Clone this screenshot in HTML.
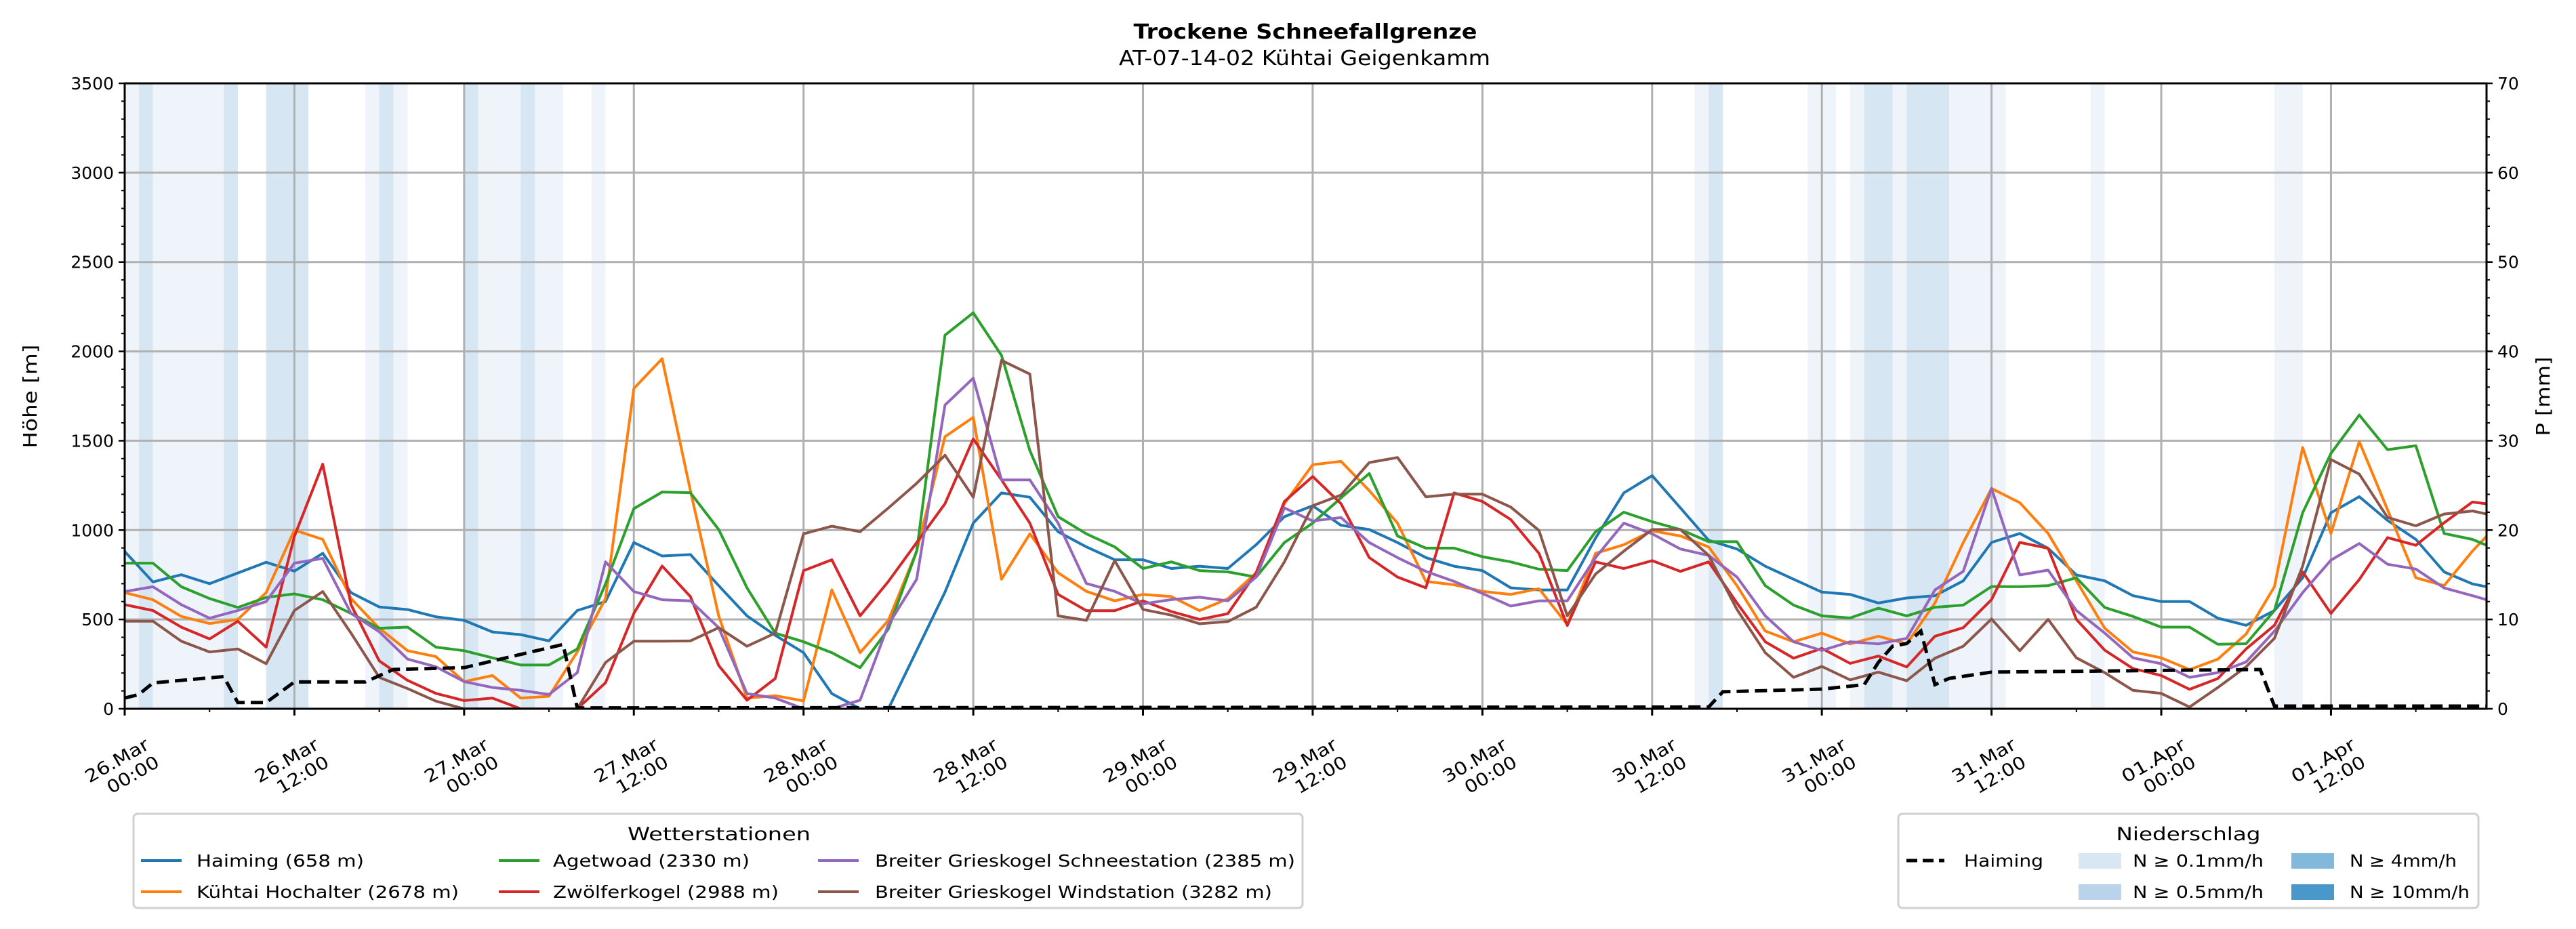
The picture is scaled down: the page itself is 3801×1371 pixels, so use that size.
<!DOCTYPE html>
<html><head><meta charset="utf-8"><style>
html,body{margin:0;padding:0;background:#fff;}
svg{display:block;font-family:"DejaVu Sans","Liberation Sans",sans-serif;}
</style></head><body>
<svg id="chart" width="3801" height="1371" viewBox="0 0 3801 1371" xmlns="http://www.w3.org/2000/svg">
<g id="bands"></g>
<g id="grid"></g>
<g id="series"></g>
<g id="axes"></g>
<text x="1926" y="57" text-anchor="middle" font-size="30" font-weight="bold" textLength="507" lengthAdjust="spacingAndGlyphs">Trockene Schneefallgrenze</text>
<text x="1925" y="96" text-anchor="middle" font-size="30" textLength="548" lengthAdjust="spacingAndGlyphs">AT-07-14-02 Kühtai Geigenkamm</text>
<text transform="translate(54,585) rotate(-90)" text-anchor="middle" font-size="28" textLength="153" lengthAdjust="spacingAndGlyphs">Höhe [m]</text>
<text transform="translate(3762,585) rotate(-90)" text-anchor="middle" font-size="28" textLength="117" lengthAdjust="spacingAndGlyphs">P [mm]</text>

<g>
<rect x="197" y="1201" width="1725" height="139" rx="6" fill="#fff" stroke="#d0d0d0" stroke-width="3"/>
<text x="1061" y="1240" text-anchor="middle" font-size="27" textLength="270" lengthAdjust="spacingAndGlyphs">Wetterstationen</text>
<g><line x1="208" y1="1270" x2="268" y2="1270" stroke="#1f77b4" stroke-width="4"/><text x="290" y="1279" font-size="25" textLength="247" lengthAdjust="spacingAndGlyphs">Haiming (658 m)</text></g>
<g><line x1="208" y1="1316" x2="268" y2="1316" stroke="#ff7f0e" stroke-width="4"/><text x="290" y="1325" font-size="25" textLength="387" lengthAdjust="spacingAndGlyphs">Kühtai Hochalter (2678 m)</text></g>
<g><line x1="736" y1="1270" x2="796" y2="1270" stroke="#2ca02c" stroke-width="4"/><text x="816" y="1279" font-size="25" textLength="290" lengthAdjust="spacingAndGlyphs">Agetwoad (2330 m)</text></g>
<g><line x1="736" y1="1316" x2="796" y2="1316" stroke="#d62728" stroke-width="4"/><text x="816" y="1325" font-size="25" textLength="333" lengthAdjust="spacingAndGlyphs">Zwölferkogel (2988 m)</text></g>
<g><line x1="1207" y1="1270" x2="1267" y2="1270" stroke="#9467bd" stroke-width="4"/><text x="1291" y="1279" font-size="25" textLength="620" lengthAdjust="spacingAndGlyphs">Breiter Grieskogel Schneestation (2385 m)</text></g>
<g><line x1="1207" y1="1316" x2="1267" y2="1316" stroke="#8c564b" stroke-width="4"/><text x="1291" y="1325" font-size="25" textLength="586" lengthAdjust="spacingAndGlyphs">Breiter Grieskogel Windstation (3282 m)</text></g>
</g>

<g>
<rect x="2801" y="1201" width="856" height="139" rx="6" fill="#fff" stroke="#d0d0d0" stroke-width="3"/>
<text x="3229" y="1240" text-anchor="middle" font-size="27" textLength="213" lengthAdjust="spacingAndGlyphs">Niederschlag</text>
<g><line x1="2813" y1="1270" x2="2869" y2="1270" stroke="#000" stroke-width="5" stroke-dasharray="16,8"/><text x="2898" y="1279" font-size="25" textLength="117" lengthAdjust="spacingAndGlyphs">Haiming</text></g>
<g><rect x="3067" y="1259" width="63" height="23" fill="#d9e7f5"/><text x="3147" y="1279" font-size="25" textLength="193" lengthAdjust="spacingAndGlyphs">N ≥ 0.1mm/h</text></g>
<g><rect x="3067" y="1305" width="63" height="23" fill="#b9d4ea"/><text x="3147" y="1325" font-size="25" textLength="193" lengthAdjust="spacingAndGlyphs">N ≥ 0.5mm/h</text></g>
<g><rect x="3381" y="1259" width="63" height="23" fill="#82b8da"/><text x="3467" y="1279" font-size="25" textLength="158" lengthAdjust="spacingAndGlyphs">N ≥ 4mm/h</text></g>
<g><rect x="3381" y="1305" width="63" height="23" fill="#4a98c9"/><text x="3467" y="1325" font-size="25" textLength="177" lengthAdjust="spacingAndGlyphs">N ≥ 10mm/h</text></g>
</g>
</svg>
<script>
// ---- data ----
const seriesNames = ["Haiming (658 m)","Kühtai Hochalter (2678 m)","Agetwoad (2330 m)","Zwölferkogel (2988 m)","Breiter Grieskogel Schneestation (2385 m)","Breiter Grieskogel Windstation (3282 m)"];
const seriesColors = ["#1f77b4","#ff7f0e","#2ca02c","#d62728","#9467bd","#8c564b"];
const hours = [];
for (let h = 0; h <= 166; h += 2) hours.push(h);
hours.push(167);
const haiming = [880,710,750,700,760,820,770,870,650,570,
 555,515,495,430,415,380,550,600,930,855,
 863,689,520,411,314,85,0,0,326,653,
 1039,1208,1184,991,906,834,834,785,798,785,
 918,1075,1136,1027,1003,930,846,798,773,677,
 665,665,955,1208,1305,1124,943,894,798,725,
 653,640,592,620,633,716,931,981,898,749,
 716,633,600,600,507,467,550,733,1097,1187,
 1054,948,766,699,683];
const kuehtai = [650,610,517,477,500,650,1000,948,617,451,
 325,292,152,186,60,70,318,617,1793,1959,
 1221,520,60,73,44,665,314,495,882,1523,
 1631,725,979,761,657,604,640,628,549,616,
 761,1148,1366,1385,1221,1039,713,694,657,640,
 672,471,870,918,996,967,906,689,435,375,
 423,363,406,363,592,930,1233,1153,981,716,
 451,318,285,219,278,418,683,1462,981,1495,
 1114,733,689,882,965];
const agetwoad = [815,815,683,617,567,623,643,610,534,451,
 457,345,325,285,245,245,335,699,1120,1213,
 1209,1003,677,423,375,314,230,447,882,2091,
 2216,1977,1445,1075,979,906,785,822,773,766,
 737,930,1039,1180,1317,967,899,899,851,822,
 781,773,991,1100,1047,1003,935,935,689,580,
 520,508,563,520,568,580,684,683,689,733,
 567,517,457,457,361,364,550,1097,1429,1644,
 1450,1472,981,948,915];
const zwoelfer = [583,550,457,391,490,345,965,1369,583,268,
 159,86,46,60,0,0,0,146,534,799,
 628,242,48,169,773,834,520,713,930,1148,
 1510,1281,1039,640,549,549,604,544,500,532,
 761,1160,1300,1148,846,737,677,1208,1160,1059,
 870,466,822,785,829,769,822,592,375,283,
 338,254,295,234,406,454,611,931,898,500,
 328,225,186,109,169,335,467,766,534,723,
 958,915,1041,1157,1147];
const grieskogelSchnee = [656,683,583,507,550,600,815,842,534,431,
 278,235,152,119,103,80,202,822,656,610,
 604,454,85,60,0,0,48,471,725,1700,
 1850,1281,1281,1039,701,657,587,611,624,604,
 737,1124,1051,1070,930,846,769,713,645,575,
 604,604,846,1039,979,894,858,737,520,375,
 326,375,363,394,665,769,1233,749,776,550,
 424,285,252,176,202,262,434,650,832,925,
 809,782,676,633,610];
const grieskogelWind = [490,490,378,318,335,252,550,656,424,176,
 113,43,0,0,0,0,0,259,378,378,
 380,454,350,423,979,1022,991,1124,1262,1419,
 1184,1950,1873,520,495,829,556,524,476,488,
 568,822,1136,1196,1378,1406,1186,1201,1201,1129,
 998,520,754,882,1003,1003,858,556,314,176,
 237,162,205,157,283,350,503,325,500,285,
 202,103,86,10,119,235,394,799,1395,1313,
 1071,1024,1090,1107,1090];
const precipHours = [0,1,2,7,8,10,12,17,19,24,31,32,112,113,120,123,124,125,126,127,128,129,132,151,152,167];
const precipMm = [1.2,1.6,2.9,3.6,0.7,0.7,3.0,3.0,4.4,4.6,7.2,0.1,0.2,1.9,2.2,2.7,5.2,7.0,7.3,8.7,2.7,3.4,4.1,4.4,0.3,0.3];
const bandStart = [0,1,2,7,10,17,18,19,24,25,28,29,33,111,112,119,122,123,125,126,129,139,152];
const bandEnd   = [1,2,7,8,13,18,19,20,25,28,29,31,34,112,113,121,123,125,126,129,133,140,154];
const bandLevel = [1,2,1,2,2,1,2,1,2,1,2,1,1,1,2,1,1,2,1,2,1,1,1];
const xTickLabels = ["26.Mar|00:00","26.Mar|12:00","27.Mar|00:00","27.Mar|12:00","28.Mar|00:00","28.Mar|12:00","29.Mar|00:00","29.Mar|12:00","30.Mar|00:00","30.Mar|12:00","31.Mar|00:00","31.Mar|12:00","01.Apr|00:00","01.Apr|12:00"];
const yTicks = [0,500,1000,1500,2000,2500,3000,3500];
const y2Ticks = [0,10,20,30,40,50,60,70];

// ---- axes ----
const X0=184, X1=3669, Y0=1046, Y1=123, HMAX=167;
const xs = h => X0 + (X1-X0)*h/HMAX;
const ys = m => Y0 - (Y0-Y1)*m/3500;
const ys2 = p => Y0 - (Y0-Y1)*p/70;
const NS="http://www.w3.org/2000/svg";
function mk(tag, attrs, parent){const e=document.createElementNS(NS,tag);for(const k in attrs)e.setAttribute(k,attrs[k]);parent.appendChild(e);return e;}

const bandsG=document.getElementById('bands');
bandStart.forEach((s,i)=>{
  const r=mk('rect',{x:xs(s),y:Y1,width:xs(bandEnd[i])-xs(s),height:Y0-Y1,fill:bandLevel[i]===2?'#d7e6f3':'#eef4fa'},bandsG);
  
  
});

const gridG=document.getElementById('grid');
yTicks.forEach(t=>{ if(t>0&&t<3500){const l=mk('line',{x1:X0,x2:X1,y1:ys(t),y2:ys(t),stroke:'#b0b0b0','stroke-width':3},gridG);
  
  }});
xTickLabels.forEach((lab,i)=>{ const h=i*12; if(h>0){const l=mk('line',{x1:xs(h),x2:xs(h),y1:Y1,y2:Y0,stroke:'#b0b0b0','stroke-width':3},gridG);
  
  }});

const serG=document.getElementById('series');
const clip=mk('clipPath',{id:'pc'},mk('defs',{},serG));
mk('rect',{x:X0,y:Y1-4,width:X1-X0,height:Y0-Y1+4},clip);
const allSeries=[haiming,kuehtai,agetwoad,zwoelfer,grieskogelSchnee,grieskogelWind];
allSeries.forEach((arr,si)=>{
  const pts=arr.map((v,i)=>xs(hours[i]).toFixed(1)+','+ys(v).toFixed(1)).join(' ');
  const p=mk('polyline',{points:pts,fill:'none',stroke:seriesColors[si],'stroke-width':4,'stroke-linejoin':'round','clip-path':'url(#pc)'},serG);
  
  
});
const ppts=precipHours.map((h,i)=>xs(h).toFixed(1)+','+ys2(precipMm[i]).toFixed(1)).join(' ');
const pl=mk('polyline',{points:ppts,fill:'none',stroke:'#000','stroke-width':5,'stroke-dasharray':'18,9'},serG);



const axG=document.getElementById('axes');
mk('rect',{x:X0,y:Y1,width:X1-X0,height:Y0-Y1,fill:'none',stroke:'#000','stroke-width':3},axG);
for(let m=0;m<=3500;m+=100){const major=m%500===0;mk('line',{x1:X0-(major?9:5),x2:X0,y1:ys(m),y2:ys(m),stroke:'#000','stroke-width':major?2.5:2},axG);}
yTicks.forEach(t=>{const tx=mk('text',{x:X0-16,y:ys(t)+9,'text-anchor':'end','font-size':25},axG);tx.textContent=t;
  
  });
for(let p=0;p<=70;p+=2){const major=p%10===0;mk('line',{x1:X1,x2:X1+(major?9:5),y1:ys2(p),y2:ys2(p),stroke:'#000','stroke-width':major?2.5:2},axG);}
y2Ticks.forEach(t=>{const tx=mk('text',{x:X1+16,y:ys2(t)+9,'font-size':25},axG);tx.textContent=t;
  
  });
for(let h=0;h<=HMAX;h+=6){const major=h%12===0;mk('line',{x1:xs(h),x2:xs(h),y1:Y0,y2:Y0+(major?10:5),stroke:'#000','stroke-width':major?3:2},axG);}
xTickLabels.forEach((lab,i)=>{
  const [a,b]=lab.split('|');
  const g=mk('g',{transform:`translate(${xs(i*12)+38},${Y0+58}) rotate(-30)`},axG);
  
  
  const t1=mk('text',{x:0,y:0,'text-anchor':'end','font-size':26,textLength:104,lengthAdjust:'spacingAndGlyphs'},g);t1.textContent=a;
  const t2=mk('text',{x:0,y:30,'text-anchor':'end','font-size':26,textLength:84,lengthAdjust:'spacingAndGlyphs'},g);t2.textContent=b;
});
</script>
</body></html>
